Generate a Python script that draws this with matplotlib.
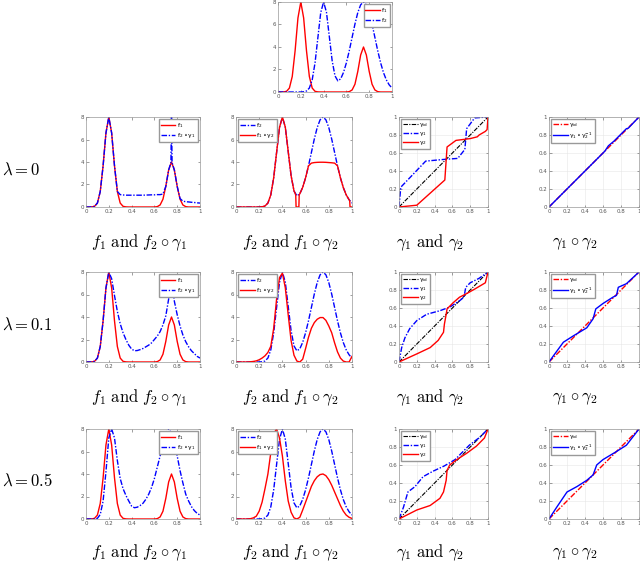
import numpy as np
import matplotlib
matplotlib.use("Agg")
import matplotlib.pyplot as plt

plt.rcParams["mathtext.fontset"] = "cm"

# shared sampling grid of the density curves
X = np.linspace(0, 1, 41)

F1 = [0, 0, 0.01, 0.06, 0.35, 1.38, 3.66, 6.58, 8.0, 6.58, 3.66, 1.38, 0.35, 0.06, 0.01,
      0, 0, 0, 0, 0, 0, 0, 0, 0, 0,
      0.03, 0.18, 0.69, 1.83, 3.29, 4.0, 3.29, 1.83, 0.69, 0.18, 0.03,
      0, 0, 0, 0, 0]
F2 = [0, 0, 0, 0, 0, 0, 0, 0, 0,
      0.02, 0.09, 0.35, 1.08, 2.6, 4.85, 7.07, 8.0, 7.1, 4.94, 2.78, 1.43,
      0.99, 1.17, 1.75, 2.6, 3.66, 4.85, 6.04, 7.06, 7.75, 8.0, 7.75, 7.06,
      6.04, 4.85, 3.66, 2.6, 1.73, 1.08, 0.64, 0.35]

# lambda = 0
R0_F2G1_X = [0, 0.025, 0.05, 0.075, 0.1, 0.125, 0.15, 0.175, 0.2, 0.225, 0.25,
             0.275, 0.3, 0.325, 0.35, 0.375, 0.4, 0.425, 0.45, 0.475, 0.5,
             0.525, 0.55, 0.575, 0.6, 0.625, 0.65, 0.675, 0.7, 0.725,
             0.745, 0.75, 0.755,
             0.775, 0.8, 0.825, 0.85, 0.875, 0.9, 0.925, 0.95, 0.975, 1.0]
R0_F2G1 = [0, 0, 0.01, 0.06, 0.35, 1.38, 3.66, 6.58, 8.0, 6.58, 3.66,
           1.38, 1.1, 1.07, 1.05, 1.05, 1.05, 1.05, 1.05, 1.05, 1.05,
           1.06, 1.07, 1.08, 1.08, 1.1, 1.1, 1.15, 1.83, 3.29,
           3.95, 8.0, 3.95,
           3.29, 1.83, 0.75, 0.52, 0.47, 0.45, 0.42, 0.4, 0.37, 0.35]
R0_F1G2_X = [0, 0.025, 0.05, 0.075, 0.1, 0.125, 0.15, 0.175, 0.2, 0.225, 0.25,
             0.275, 0.3, 0.325, 0.35, 0.375, 0.4, 0.425, 0.45, 0.475, 0.5,
             0.51, 0.515, 0.518, 0.542, 0.545,
             0.55, 0.575, 0.6, 0.625, 0.65, 0.675, 0.7, 0.725, 0.75, 0.775,
             0.8, 0.825, 0.85, 0.875, 0.9, 0.925, 0.95, 0.975,
             0.98, 0.983, 1.0]
R0_F1G2 = [0, 0, 0, 0, 0, 0, 0, 0, 0,
           0.02, 0.09, 0.35, 1.08, 2.6, 4.85, 7.07, 8.0, 7.1, 4.94, 2.78, 1.43,
           1.2, 1.05, 0, 0, 1.1,
           1.17, 1.75, 2.6, 3.66, 3.9, 3.95, 3.97, 3.98, 3.98, 3.97,
           3.95, 3.93, 3.9, 3.66, 2.6, 1.73, 1.08, 0.64,
           0.58, 0, 0]
R0_G1_X = [0, 0.02, 0.3, 0.52, 0.66, 0.74, 0.76, 0.85, 1.0]
R0_G1 = [0, 0.22, 0.51, 0.53, 0.54, 0.64, 0.87, 0.99, 1.0]
R0_G2_X = [0, 0.2, 0.515, 0.54, 0.64, 0.8, 0.88, 0.9, 0.97, 0.99, 1.0]
R0_G2 = [0, 0.02, 0.30, 0.667, 0.74, 0.76, 0.78, 0.8, 0.84, 0.86, 1.0]
R0_COMP_X = [0, 0.62, 0.66, 0.72, 0.8, 0.86, 0.88, 1.0]
R0_COMP = [0, 0.62, 0.68, 0.73, 0.81, 0.87, 0.875, 1.0]

# lambda = 0.1
R1_F2G1 = [0, 0, 0.01, 0.06, 0.35, 1.38, 3.66, 6.58, 8.0, 7.4,
           5.9, 4.5, 3.4, 2.6, 2.0, 1.5, 1.15, 1.0, 1.02, 1.1,
           1.2, 1.35, 1.5, 1.7, 2.0, 2.3, 2.7, 3.3, 4.1, 5.6,
           7.6, 5.4, 4.2, 3.2, 2.4, 1.8, 1.35, 1.0, 0.75, 0.5, 0.35]
R1_F1G2 = [0, 0, 0, 0, 0, 0.02, 0.05, 0.1, 0.2, 0.35,
           0.55, 0.85, 1.4, 3.0, 5.6, 7.5, 7.9, 6.6, 4.2, 1.9,
           0.6, 0.08, 0, 0.25, 1.2, 2.2, 3.0, 3.5, 3.8, 3.95,
           3.95, 3.7, 3.2, 2.6, 1.7, 0.9, 0.35, 0.08, 0, 0, 0.5]
R1_G1_X = [0, 0.03, 0.067, 0.12, 0.2, 0.31, 0.46, 0.57, 0.68, 0.73, 0.75, 0.8, 0.9, 1.0]
R1_G1 = [0, 0.16, 0.27, 0.37, 0.46, 0.53, 0.57, 0.61, 0.68, 0.72, 0.83, 0.88, 0.93, 1.0]
R1_G2_X = [0, 0.2, 0.35, 0.44, 0.5, 0.51, 0.53, 0.54, 0.61, 0.68, 0.76, 0.85, 0.97, 1.0]
R1_G2 = [0, 0.09, 0.16, 0.24, 0.33, 0.42, 0.53, 0.59, 0.66, 0.72, 0.76, 0.81, 0.88, 1.0]
R1_COMP_X = [0, 0.05, 0.16, 0.27, 0.42, 0.49, 0.52, 0.6, 0.71, 0.75, 0.77, 0.86, 1.0]
R1_COMP = [0, 0.07, 0.22, 0.29, 0.38, 0.48, 0.59, 0.65, 0.72, 0.74, 0.83, 0.87, 1.0]

# lambda = 0.5
R2_F2G1 = [0, 0, 0, 0.01, 0.06, 0.4, 1.6, 4.2, 7.2, 8.0,
           7.2, 5.2, 3.6, 2.7, 2.1, 1.6, 1.15, 1.0, 1.05, 1.2,
           1.4, 1.75, 2.2, 2.8, 3.6, 4.6, 5.6, 6.8, 7.6, 8.0,
           7.6, 6.7, 5.6, 4.3, 3.2, 2.2, 1.6, 1.1, 0.75, 0.5, 0.35]
R2_F1G2 = [0, 0, 0, 0, 0, 0.03, 0.1, 0.25, 0.7, 1.5,
           2.7, 4.0, 5.9, 7.6, 8.0, 7.2, 5.6, 3.4, 1.6, 0.6,
           0.1, 0, 0.15, 0.8, 1.5, 2.2, 2.9, 3.4, 3.75, 3.95,
           4.0, 3.85, 3.5, 3.0, 2.4, 1.8, 1.2, 0.7, 0.35, 0.15, 0.05]
R2_G1_X = [0, 0.05, 0.1, 0.18, 0.27, 0.38, 0.51, 0.63, 0.72, 0.79, 0.91, 1.0]
R2_G1 = [0, 0.13, 0.3, 0.36, 0.47, 0.53, 0.59, 0.66, 0.75, 0.82, 0.91, 1.0]
R2_G2_X = [0, 0.2, 0.35, 0.46, 0.5, 0.53, 0.54, 0.57, 0.65, 0.76, 0.87, 0.96, 1.0]
R2_G2 = [0, 0.1, 0.15, 0.23, 0.3, 0.43, 0.54, 0.6, 0.66, 0.73, 0.81, 0.9, 1.0]
R2_COMP_X = [0, 0.085, 0.2, 0.31, 0.42, 0.49, 0.53, 0.6, 0.75, 0.86, 1.0]
R2_COMP = [0, 0.13, 0.3, 0.36, 0.43, 0.49, 0.6, 0.66, 0.75, 0.82, 1.0]

ROWS = [
    (r"$\lambda = 0$", (R0_F2G1_X, R0_F2G1), (R0_F1G2_X, R0_F1G2),
     (R0_G1_X, R0_G1), (R0_G2_X, R0_G2), (R0_COMP_X, R0_COMP)),
    (r"$\lambda = 0.1$", (X, R1_F2G1), (X, R1_F1G2),
     (R1_G1_X, R1_G1), (R1_G2_X, R1_G2), (R1_COMP_X, R1_COMP)),
    (r"$\lambda = 0.5$", (X, R2_F2G1), (X, R2_F1G2),
     (R2_G1_X, R2_G1), (R2_G2_X, R2_G2), (R2_COMP_X, R2_COMP)),
]
CAPTIONS = [r"$f_1\ \mathrm{and}\ f_2\circ\gamma_1$",
            r"$f_2\ \mathrm{and}\ f_1\circ\gamma_2$",
            r"$\gamma_1\ \mathrm{and}\ \gamma_2$",
            r"$\gamma_1\circ\gamma_2$"]

RED = "#ff0000"
BLUE = "#0000ff"
DD = (0, (4, 1.2, 1, 1.2))
LW = 1.0

W, H = 640, 569
COLS = [(86, 200), (236, 352), (399, 488), (549, 639)]
ROW_Y = [(117, 207), (272, 362), (429, 519)]
CAP_X = [139, 290, 430, 575]
CAP_Y = [243, 398, 553]
LAB_Y = [170, 325, 481]


def add_ax(fig, l, r, t, b):
    return fig.add_axes([l / W, 1 - b / H, (r - l) / W, (b - t) / H])


def style(ax, warp=False):
    ax.set_xlim(0, 1)
    ax.set_xticks([0, 0.2, 0.4, 0.6, 0.8, 1])
    ax.set_xticklabels(["0", "0.2", "0.4", "0.6", "0.8", "1"])
    if warp:
        ax.set_ylim(0, 1)
        ax.set_yticks([0, 0.2, 0.4, 0.6, 0.8, 1])
        ax.set_yticklabels(["0", "0.2", "0.4", "0.6", "0.8", "1"])
        ax.grid(True, color="#e6e6e6", lw=0.4)
        ax.set_axisbelow(True)
    else:
        ax.set_ylim(0, 8)
        ax.set_yticks([0, 2, 4, 6, 8])
    ax.tick_params(direction="in", length=1.8, width=0.4, labelsize=4,
                   pad=1.5, colors="#555555", top=True, right=True)
    for s in ax.spines.values():
        s.set_color("#999999")
        s.set_linewidth(0.5)


def legend(ax, loc):
    ax.legend(loc=loc, fontsize=4.3, handlelength=2.4, borderpad=0.3,
              labelspacing=0.15, handletextpad=0.3, borderaxespad=0.4,
              framealpha=1, fancybox=False, edgecolor="#999999")


def lab(s):
    return r"$\mathregular{" + s + "}$"


fig = plt.figure(figsize=(6.4, 5.69), dpi=100)

# top: the two original densities
ax = add_ax(fig, 278, 392, 2, 92)
ax.plot(X, F1, color=RED, lw=LW, label=lab("f_1"))
ax.plot(X, F2, color=BLUE, lw=LW, ls=DD, label=lab("f_2"))
style(ax)
legend(ax, "upper right")

for i, (name, f2g1, f1g2, g1, g2, comp) in enumerate(ROWS):
    t, b = ROW_Y[i]
    axs = [add_ax(fig, l, r, t, b) for l, r in COLS]

    a = axs[0]
    a.plot(X, F1, color=RED, lw=LW, label=lab("f_1"))
    a.plot(*f2g1, color=BLUE, lw=LW, ls=DD, label=lab(r"f_2 \circ \gamma_1"))
    style(a)
    legend(a, "upper right")

    a = axs[1]
    a.plot(X, F2, color=BLUE, lw=LW, ls=DD, label=lab("f_2"))
    a.plot(*f1g2, color=RED, lw=LW, label=lab(r"f_1 \circ \gamma_2"))
    style(a)
    legend(a, "upper left")

    a = axs[2]
    a.plot([0, 1], [0, 1], color="black", lw=0.8, ls=DD, label=lab(r"\gamma_{id}"))
    a.plot(*g1, color=BLUE, lw=LW, ls=DD, label=lab(r"\gamma_1"))
    a.plot(*g2, color=RED, lw=LW, label=lab(r"\gamma_2"))
    style(a, warp=True)
    legend(a, "upper left")

    a = axs[3]
    a.plot([0, 1], [0, 1], color=RED, lw=LW, ls=DD, label=lab(r"\gamma_{id}"))
    a.plot(*comp, color=BLUE, lw=LW, label=lab(r"\gamma_1 \circ \gamma_2^{-1}"))
    style(a, warp=True)
    legend(a, "upper left")

    fig.text(2 / W, 1 - LAB_Y[i] / H, name, fontsize=12, ha="left", va="center")
    for cx, cap in zip(CAP_X, CAPTIONS):
        fig.text(cx / W, 1 - CAP_Y[i] / H, cap, fontsize=12, ha="center", va="center")

fig.savefig("out.png", dpi=100)
